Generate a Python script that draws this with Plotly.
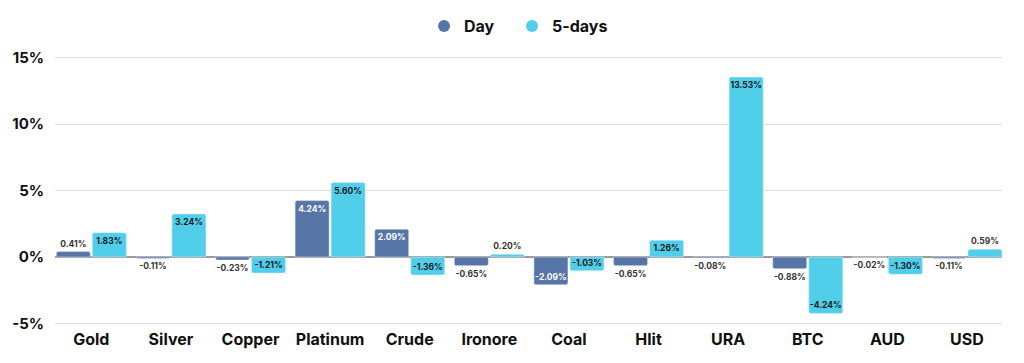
import plotly.graph_objects as go

categories = ["Gold", "Silver", "Copper", "Platinum", "Crude", "Ironore", "Coal", "Hlit", "URA", "BTC", "AUD", "USD"]
day_values = [0.41, -0.11, -0.23, 4.24, 2.09, -0.65, -2.09, -0.65, -0.08, -0.88, -0.02, -0.11]
five_day_values = [1.83, 3.24, -1.21, 5.60, -1.36, 0.20, -1.03, 1.26, 13.53, -4.24, -1.30, 0.59]
y_ticks = [-5, 0, 5, 10, 15]
y_tick_labels = ["-5%", "0%", "5%", "10%", "15%"]

DAY_COLOR = "#5875A8"
FIVE_COLOR = "#50CEEA"
FONT = "Inter, 'Open Sans', sans-serif"


def positions(vals):
    return ["inside" if abs(v) >= 1 else "outside" for v in vals]


fig = go.Figure()
fig.add_trace(go.Bar(
    x=categories, y=day_values, name="Day", marker_color=DAY_COLOR,
    text=[f"{v:.2f}%" for v in day_values], textposition=positions(day_values),
    insidetextanchor="end", textangle=0, constraintext="none",
    insidetextfont=dict(color="white", size=8.5, family=FONT, weight=700),
    outsidetextfont=dict(color="#333333", size=8.5, family=FONT, weight=700),
    cliponaxis=False, showlegend=False,
))
fig.add_trace(go.Bar(
    x=categories, y=five_day_values, name="5-days", marker_color=FIVE_COLOR,
    text=[f"{v:.2f}%" for v in five_day_values], textposition=positions(five_day_values),
    insidetextanchor="end", textangle=0, constraintext="none",
    insidetextfont=dict(color="#1a1a1a", size=8.5, family=FONT, weight=700),
    outsidetextfont=dict(color="#333333", size=8.5, family=FONT, weight=700),
    cliponaxis=False, showlegend=False,
))
# legend entries with circular symbols
fig.add_trace(go.Scatter(x=[None], y=[None], mode="markers", name="Day", legend="legend",
                         marker=dict(color=DAY_COLOR, size=13, symbol="circle")))
fig.add_trace(go.Scatter(x=[None], y=[None], mode="markers", name="5-days", legend="legend2",
                         marker=dict(color=FIVE_COLOR, size=13, symbol="circle")))

legend_style = dict(orientation="h", xanchor="left", y=1.107, yanchor="middle",
                    font=dict(size=16, family=FONT, weight=700, color="#111111"),
                    itemsizing="constant", itemwidth=30, bgcolor="rgba(0,0,0,0)")

fig.update_layout(
    width=1008, height=347,
    margin=dict(l=47, r=14, t=47, b=29, autoexpand=False),
    paper_bgcolor="white", plot_bgcolor="white",
    barmode="group", bargap=0.095, bargroupgap=0.055, barcornerradius=2,
    font=dict(family=FONT, color="#111111"),
    legend=dict(x=0.3897, **legend_style),
    legend2=dict(x=0.4826, **legend_style),
)
fig.update_xaxes(
    range=[-0.456, 11.44], showgrid=False, showline=False, zeroline=False,
    tickfont=dict(size=16, family=FONT, weight=700, color="#111111"),
    ticklabelstandoff=2, fixedrange=True, automargin=False,
)
fig.update_yaxes(
    range=[-5.188, 15.188], tickvals=y_ticks, ticktext=y_tick_labels,
    showgrid=True, gridcolor="#dddddd", gridwidth=1,
    zeroline=True, zerolinecolor="#9a9a9a", zerolinewidth=1.5,
    showline=False,
    tickfont=dict(size=15, family=FONT, weight=700, color="#111111"),
    ticklabelstandoff=10, fixedrange=True, automargin=False,
)

fig.write_html("out.html")
